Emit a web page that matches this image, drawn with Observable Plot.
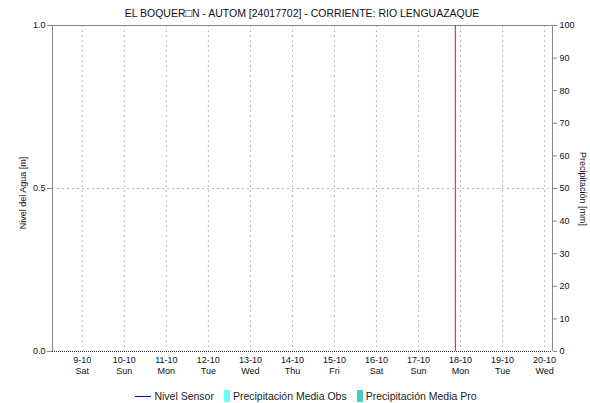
<!DOCTYPE html>
<html>
<head>
<meta charset="utf-8">
<script src="https://cdn.jsdelivr.net/npm/d3@7"></script>
<script src="https://cdn.jsdelivr.net/npm/@observablehq/plot@0.6"></script>
<style>
  html, body { margin: 0; padding: 0; background: #fff; }
  body { width: 590px; height: 403px; overflow: hidden; font-family: "Liberation Sans", Arial, sans-serif; }
  #title { height: 20px; line-height: 20px; padding-top: 3px; box-sizing: border-box; text-align: center; font-size: 10.5px; color: #111; padding-left: 14px; }
  #chart svg { display: block; }
  #legend { display: flex; justify-content: center; align-items: center; font-size: 10.5px; color: #222; height: 22px; margin-top: 4px; padding-left: 22px; }
  .item { display: flex; align-items: center; margin: 0 5px; }
  .line { width: 16px; height: 0; border-top: 1.5px solid #0000cc; margin-right: 3px; }
  .sw { width: 6px; height: 12px; margin-right: 3px; }
  svg text { font-family: "Liberation Sans", Arial, sans-serif; }
</style>
</head>
<body>
<div id="title"></div>
<div id="chart"></div>
<div id="legend"></div>
<script>
// ---- data ----
const title = "EL BOQUER\u25A1N - AUTOM [24017702] - CORRIENTE: RIO LENGUAZAQUE";
const dayDates = ["2021-10-09","2021-10-10","2021-10-11","2021-10-12","2021-10-13","2021-10-14",
                  "2021-10-15","2021-10-16","2021-10-17","2021-10-18","2021-10-19","2021-10-20"];
const dateLabels = ["9-10","10-10","11-10","12-10","13-10","14-10","15-10","16-10","17-10","18-10","19-10","20-10"];
const weekdayLabels = ["Sat","Sun","Mon","Tue","Wed","Thu","Fri","Sat","Sun","Mon","Tue","Wed"];
const xStart = "2021-10-08T07:00Z";
const xEnd = "2021-10-20T04:30Z";
const nowMarker = "2021-10-17T21:00Z";
const levelTicks = [0, 0.5, 1.0];          // Nivel del Agua [m]
const levelMax = 1.0;
const precipTicks = [0,10,20,30,40,50,60,70,80,90,100]; // Precipitación [mm]
const precipMax = 100;
const nivelSensor = [];          // no data in the period
const precipObs = [];            // no data
const precipPro = [];            // no data
const seriesNames = ["Nivel Sensor", "Precipitación Media Obs", "Precipitación Media Pro"];
const seriesColors = ["#0000cc", "#66ffff", "#44cccc"];
const yLabelLeft = "Nivel del Agua [m]";
const yLabelRight = "Precipitación [mm]";

// ---- chart ----
document.getElementById("title").textContent = title;
const days = dayDates.map(d => new Date(d + "T00:00Z"));
const labelMap = new Map(days.map((d, i) => [+d, dateLabels[i] + "\n" + weekdayLabels[i]]));

const chart = Plot.plot({
  width: 590,
  height: 361,
  marginTop: 5,
  marginBottom: 30,
  marginLeft: 52,
  marginRight: 38,
  style: { fontSize: "9px", color: "#111", background: "#fff", overflow: "visible" },
  x: { type: "utc", domain: [new Date(xStart), new Date(xEnd)], axis: null },
  y: { domain: [0, levelMax], axis: null },
  marks: [
    // gridlines
    Plot.ruleX(days, { stroke: "#bbb", strokeDasharray: "2,3", strokeWidth: 1 }),
    Plot.ruleY([0.5], { stroke: "#bbb", strokeDasharray: "2,3", strokeWidth: 1 }),
    // frame
    Plot.ruleX([new Date(xStart), new Date(xEnd)], { stroke: "#888" }),
    Plot.ruleY([levelMax], { stroke: "#888" }),
    Plot.ruleY([0], { stroke: "#333", strokeDasharray: "1,1" }),
    // data series (empty)
    Plot.rectY(precipObs, { x1: "start", x2: "end", y: d => d.value / precipMax, fill: seriesColors[1] }),
    Plot.rectY(precipPro, { x1: "start", x2: "end", y: d => d.value / precipMax, fill: seriesColors[2] }),
    Plot.line(nivelSensor, { x: "date", y: "value", stroke: seriesColors[0] }),
    // current time marker
    Plot.ruleX([new Date(nowMarker)], { stroke: "#e01010", strokeWidth: 1 }),
    // left axis
    Plot.axisY(levelTicks, { anchor: "left", tickSize: 5, tickPadding: 2, stroke: "#888",
      tickFormat: d => d.toFixed(1), fontSize: 9, label: null }),
    // right axis (precipitation, mapped onto the same vertical range)
    Plot.axisY(precipTicks.map(v => v / precipMax * levelMax), { anchor: "right", tickSize: 4, tickPadding: 3, stroke: "#888",
      tickFormat: d => String(Math.round(d / levelMax * precipMax)), fontSize: 9, label: null }),
    // bottom axis
    Plot.axisX(days, { anchor: "bottom", tickSize: 0, tickPadding: 4, tickFormat: d => labelMap.get(+d),
      fontSize: 9, lineHeight: 1.2, label: null })
  ]
});
document.getElementById("chart").appendChild(chart);

// rotated axis titles
const svg = d3.select(chart);
svg.append("text").attr("transform", "translate(23,173) rotate(-90)")
  .attr("text-anchor", "middle").attr("font-size", 9).attr("fill", "#111").attr("dy", "0.35em")
  .text(yLabelLeft);
svg.append("text").attr("transform", "translate(583,169) rotate(90)")
  .attr("text-anchor", "middle").attr("font-size", 9).attr("fill", "#111").attr("dy", "0.35em")
  .text(yLabelRight);

// legend
const legend = document.getElementById("legend");
seriesNames.forEach((name, i) => {
  const it = document.createElement("div");
  it.className = "item";
  const mk = document.createElement("span");
  if (i === 0) { mk.className = "line"; mk.style.borderTopColor = seriesColors[i]; }
  else { mk.className = "sw"; mk.style.background = seriesColors[i]; }
  it.appendChild(mk);
  const t = document.createElement("span");
  t.textContent = name;
  it.appendChild(t);
  legend.appendChild(it);
});
</script>
</body>
</html>
